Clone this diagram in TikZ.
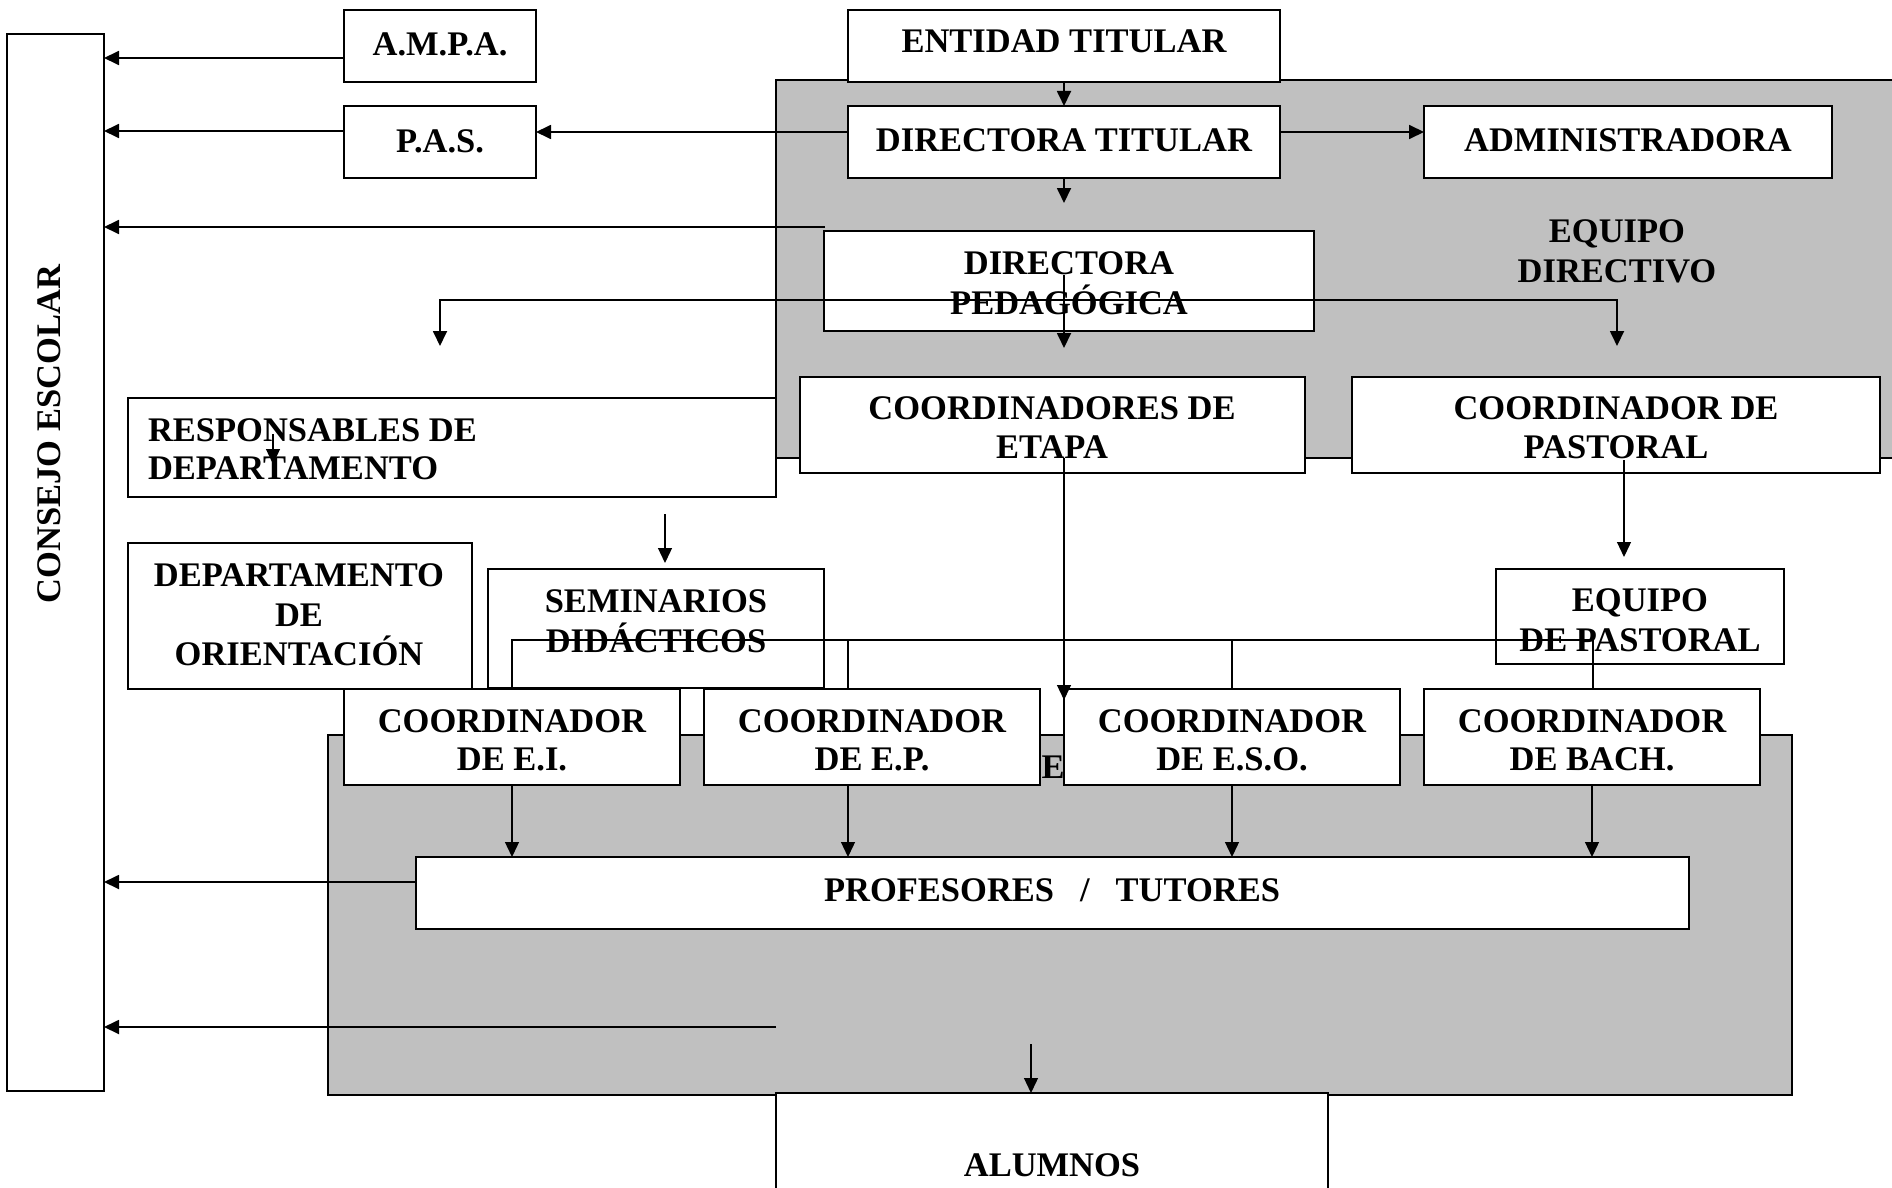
\documentclass[tikz,border=0pt]{standalone}
\usepackage{fontspec}
\setmainfont{Liberation Serif}
\usetikzlibrary{arrows.meta}
\definecolor{shade}{RGB}{192,192,192}
\begin{document}
\begin{tikzpicture}[x=1pt,y=-1pt,
  box/.style={draw, line width=1.6pt, fill=white, inner sep=0pt, outer sep=0pt, anchor=north west},
  region/.style={draw, line width=1.6pt, fill=shade, inner sep=0pt, outer sep=0pt, anchor=north west},
  lbl/.style={font=\fontsize{34.5}{39.5}\selectfont\bfseries, inner sep=0pt, outer sep=0pt, anchor=base},
  tip/.tip={Triangle[length=15pt,width=14pt]},
  conn/.style={line width=1.8pt, -tip},
  thinconn/.style={line width=1.3pt, -tip},
  plain/.style={line width=1.3pt},
]
\useasboundingbox (0,0) rectangle (1892,1188);

% shaded regions
\node[region, minimum width=1130pt, minimum height=378pt] (equipodir) at (776,80) {};
\node[region, minimum width=1464pt, minimum height=360pt] (equipodoc) at (328,735) {};
\node[lbl] (eT) at (1053,778) {E};

% boxes
\node[box, minimum width=97pt, minimum height=1057pt] (consejo) at (7,34) {};
\node[box, minimum width=192pt, minimum height=72pt] (ampa) at (344,10) {};
\node[box, minimum width=192pt, minimum height=72pt] (pas) at (344,106) {};
\node[box, minimum width=432pt, minimum height=72pt] (entidad) at (848,10) {};
\node[box, minimum width=432pt, minimum height=72pt] (dt) at (848,106) {};
\node[box, minimum width=408pt, minimum height=72pt] (admin) at (1424,106) {};
\node[box, minimum width=490pt, minimum height=100pt] (dp) at (824,231) {};
\node[box, minimum width=505pt, minimum height=96pt] (cetapa) at (800,377) {};
\node[box, minimum width=528pt, minimum height=96pt] (cpastoral) at (1352,377) {};
\node[box, minimum width=648pt, minimum height=99pt] (resp) at (128,398) {};
\node[box, minimum width=344pt, minimum height=146pt] (orient) at (128,543) {};
\node[box, minimum width=336pt, minimum height=119pt] (semin) at (488,569) {};
\node[box, minimum width=288pt, minimum height=95pt] (epast) at (1496,569) {};
\node[box, minimum width=336pt, minimum height=96pt] (ei) at (344,689) {};
\node[box, minimum width=336pt, minimum height=96pt] (ep) at (704,689) {};
\node[box, minimum width=336pt, minimum height=96pt] (eso) at (1064,689) {};
\node[box, minimum width=336pt, minimum height=96pt] (bach) at (1424,689) {};
\node[box, minimum width=1273pt, minimum height=72pt] (prof) at (416,857) {};
\node[box, minimum width=552pt, minimum height=120pt] (alumnos) at (776,1093) {};

% texts
\node[lbl, anchor=center, rotate=90] (consejoT) at (49,434) {CONSEJO ESCOLAR};
\node[lbl] (ampaT) at (440,55.5) {A.M.P.A.};
\node[lbl] (pasT) at (440,152.5) {P.A.S.};
\node[lbl] (entidadT) at (1064,53) {ENTIDAD TITULAR};
\node[lbl] (dtT) at (1064,151.5) {DIRECTORA TITULAR};
\node[lbl] (adminT) at (1628,151.5) {ADMINISTRADORA};
\node[lbl] (dpT1) at (1069,274.5) {DIRECTORA};
\node[lbl] (dpT2) at (1069,314) {PEDAGÓGICA};
\node[lbl] (edT1) at (1617,242) {EQUIPO};
\node[lbl] (edT2) at (1617,282.5) {DIRECTIVO};
\node[lbl] (cetT1) at (1052,419) {COORDINADORES DE};
\node[lbl] (cetT2) at (1052,458.5) {ETAPA};
\node[lbl] (cpaT1) at (1616,419) {COORDINADOR DE};
\node[lbl] (cpaT2) at (1616,458.5) {PASTORAL};
\node[lbl, anchor=base west] (respT1) at (148,441.5) {RESPONSABLES DE};
\node[lbl, anchor=base west] (respT2) at (148,479) {DEPARTAMENTO};
\node[lbl] (orT1) at (299,586.5) {DEPARTAMENTO};
\node[lbl] (orT2) at (299,626) {DE};
\node[lbl] (orT3) at (299,665.5) {ORIENTACIÓN};
\node[lbl] (semT1) at (656,612) {SEMINARIOS};
\node[lbl] (semT2) at (656,652) {DIDÁCTICOS};
\node[lbl] (epT1) at (1640,611.5) {EQUIPO};
\node[lbl] (epT2) at (1640,651.5) {DE PASTORAL};
\node[lbl] (eiT1) at (512,732) {COORDINADOR};
\node[lbl] (eiT2) at (512,770.5) {DE E.I.};
\node[lbl] (epcT1) at (872,732) {COORDINADOR};
\node[lbl] (epcT2) at (872,770.5) {DE E.P.};
\node[lbl] (esoT1) at (1232,732) {COORDINADOR};
\node[lbl] (esoT2) at (1232,770.5) {DE E.S.O.};
\node[lbl] (bachT1) at (1592,732) {COORDINADOR};
\node[lbl] (bachT2) at (1592,770.5) {DE BACH.};
\node[lbl] (profT) at (1052,901) {PROFESORES\hspace{26pt}/\hspace{26pt}TUTORES};
\node[lbl] (alumT) at (1052,1176.5) {ALUMNOS};

% connectors (top part)
\coordinate (ampaA) at ([yshift=-12pt]ampa.west);
\draw[conn] (ampaA) -- (ampaA -| consejo.east);
\coordinate (pasA) at ([yshift=11pt]pas.west);
\draw[conn] (pasA) -- (pasA -| consejo.east);
\coordinate (dtL) at ([yshift=10pt]dt.west);
\draw[conn] (dtL) -- (dtL -| pas.east);
\coordinate (dtR) at ([yshift=10pt]dt.east);
\draw[conn] (dtR) -- (dtR -| admin.west);
\draw[conn] (entidad.south) -- (dt.north);
\coordinate (dtDown) at (1064,203);
\draw[conn] (dt.south) -- (dtDown);
\coordinate (dpTL) at (825,227);
\draw[conn] (dpTL) -- (dpTL -| consejo.east);
\coordinate (dpIn) at (1064,275);
\coordinate (dpOut) at (1064,348);
\draw[conn] (dpIn) -- (dpOut);
\coordinate (splitL) at (440,300);
\coordinate (splitR) at (1617,300);
\coordinate (splitLd) at (440,346);
\coordinate (splitRd) at (1617,346);
\draw[line width=1.8pt, tip-tip] (splitLd) -- (splitL) -- (splitR) -- (splitRd);
\coordinate (respIn) at (273,434);
\coordinate (respInd) at (273,464);
\draw[thinconn] (respIn) -- (respInd);
\coordinate (semIn) at (665,514);
\coordinate (semInd) at (665,563);
\draw[thinconn] (semIn) -- (semInd);
\coordinate (cetOut) at (1064,458);
\coordinate (cetOutd) at (1064,700);
\draw[thinconn] (cetOut) -- (cetOutd);
\coordinate (cpaOut) at (1624,460);
\coordinate (cpaOutd) at (1624,557);
\draw[thinconn] (cpaOut) -- (cpaOutd);

% bus to coordinators
\coordinate (busL) at (512,640);
\coordinate (busR) at (1593,640);
\coordinate (busP) at (848,640);
\draw[plain] (ei.north) -- (busL) -- (busR) -- (busR |- bach.north);
\draw[plain] (busP) -- (busP |- ep.north);
\draw[plain] (eso.north) -- (eso.north |- busL);

% coordinators to profesores
\draw[thinconn] (ei.south) -- (ei.south |- prof.north);
\coordinate (epOut) at (848,785);
\draw[thinconn] (epOut) -- (epOut |- prof.north);
\draw[thinconn] (eso.south) -- (eso.south |- prof.north);
\draw[thinconn] (bach.south) -- (bach.south |- prof.north);

% to consejo from below
\coordinate (profA) at ([yshift=11pt]prof.west);
\draw[conn] (profA) -- (profA -| consejo.east);
\coordinate (alumA) at (776,1027);
\draw[conn] (alumA) -- (alumA -| consejo.east);
\coordinate (alumIn) at (1031,1044);
\draw[thinconn] (alumIn) -- (alumIn |- alumnos.north);
\end{tikzpicture}
\end{document}
